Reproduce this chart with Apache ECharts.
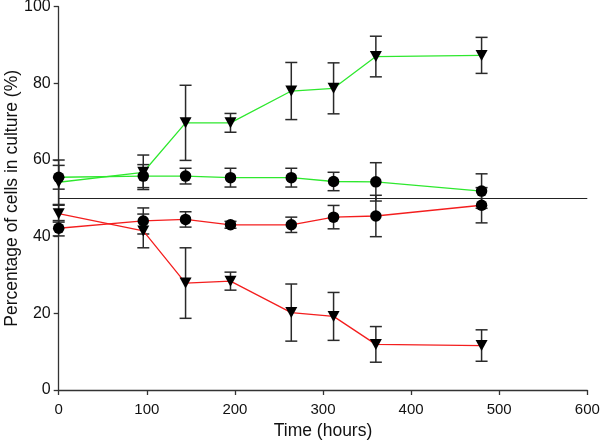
<!DOCTYPE html>
<html>
<head>
<meta charset="utf-8">
<script src="https://cdn.jsdelivr.net/npm/echarts@6/dist/echarts.min.js"></script>
<style>html,body{margin:0;padding:0;background:#fff}#c{width:600px;height:443px}</style>
</head>
<body>
<div id="c"></div>
<script>
const times = [0, 96, 144, 195, 264, 312, 360, 480];
const greenTri = [54.2, 56.8, 69.7, 69.7, 78.0, 78.7, 87.0, 87.3];
const greenTriErr = [5.8, 4.5, 9.8, 2.45, 7.45, 6.65, 5.3, 4.7];
const greenCirc = [55.5, 55.8, 55.8, 55.4, 55.4, 54.4, 54.3, 51.9];
const greenCircErr = [3.1, 3.0, 2.05, 2.45, 2.45, 2.4, 5.0, 4.5];
const redTri = [46.0, 41.5, 27.9, 28.4, 20.2, 19.2, 11.9, 11.6];
const redTriErr = [2.2, 4.4, 9.2, 2.35, 7.45, 6.25, 4.65, 4.1];
const redCirc = [42.2, 44.1, 44.5, 43.1, 43.1, 45.1, 45.4, 48.2];
const redCircErr = [2.0, 3.4, 2.0, 0.9, 2.0, 3.05, 5.4, 4.6];
const xTicks = [0, 100, 200, 300, 400, 500, 600];
const yTicks = [0, 20, 40, 60, 80, 100];
const refLevel = 50;

const GREEN = '#2ee82e', RED = '#f41e1e';

function pts(vals){ return times.map((t,i)=>[t, vals[i]]); }
function errs(vals, e){ return times.map((t,i)=>[t, vals[i]-e[i], vals[i]+e[i]]); }

function renderErr(params, api){
  const x = api.value(0), lo = api.value(1), hi = api.value(2);
  const top = api.coord([x, hi]), bot = api.coord([x, lo]);
  const w = 6;
  const st = {stroke:'#2a2a2a', lineWidth:1.5};
  return {type:'group', children:[
    {type:'line', shape:{x1:top[0], y1:top[1], x2:bot[0], y2:bot[1]}, style:st},
    {type:'line', shape:{x1:top[0]-w, y1:top[1], x2:top[0]+w, y2:top[1]}, style:st},
    {type:'line', shape:{x1:bot[0]-w, y1:bot[1], x2:bot[0]+w, y2:bot[1]}, style:st}
  ]};
}
function errSeries(vals, e){
  return {type:'custom', renderItem: renderErr, data: errs(vals, e),
    encode:{x:0, y:[1,2]}, z:1, silent:true, clip:false};
}
function lineSeries(vals, color, tri){
  return {type:'line', data: pts(vals), z:3, silent:true,
    symbol: tri ? 'triangle' : 'circle',
    symbolSize: tri ? [12, 11] : 11.5,
    symbolRotate: tri ? 180 : 0,
    itemStyle:{color:'#000', borderWidth:0},
    lineStyle:{color: color, width:1.3},
    animation:false};
}

const chart = echarts.init(document.getElementById('c'), null, {renderer:'canvas'});
chart.setOption({
  animation:false,
  backgroundColor:'#fff',
  grid:{left:58.7, right:12.7, top:6.7, bottom:53, containLabel:false, outerBoundsMode:'none'},
  xAxis:{type:'value', min:xTicks[0], max:xTicks[xTicks.length-1], interval:100,
    name:'Time (hours)', nameLocation:'middle', nameGap:32, nameMoveOverlap:false,
    nameTextStyle:{fontFamily:'Liberation Sans', fontSize:17.5, color:'#111'},
    axisLine:{lineStyle:{color:'#333', width:1.3}},
    axisTick:{show:true, inside:false, length:5, lineStyle:{color:'#333', width:1.3}},
    axisLabel:{fontFamily:'Liberation Sans', fontSize:15, color:'#111', margin:12},
    splitLine:{show:false}},
  yAxis:{type:'value', min:yTicks[0], max:yTicks[yTicks.length-1], interval:20,
    name:'Percentage of cells in culture (%)', nameLocation:'middle', nameGap:38, nameMoveOverlap:false,
    nameTextStyle:{fontFamily:'Liberation Sans', fontSize:17.5, color:'#111'},
    axisLine:{show:true, lineStyle:{color:'#333', width:1.3}},
    axisTick:{show:true, inside:false, length:5, lineStyle:{color:'#333', width:1.3}},
    axisLabel:{fontFamily:'Liberation Sans', fontSize:16, color:'#111', margin:8},
    splitLine:{show:false}},
  series:[
    errSeries(greenTri, greenTriErr),
    errSeries(greenCirc, greenCircErr),
    errSeries(redTri, redTriErr),
    errSeries(redCirc, redCircErr),
    Object.assign(lineSeries(greenTri, GREEN, true), {
      markLine:{silent:true, symbol:['none','none'], label:{show:false},
        lineStyle:{color:'#222', width:1.2, type:'solid'},
        data:[{yAxis: refLevel}]}
    }),
    lineSeries(greenCirc, GREEN, false),
    lineSeries(redTri, RED, true),
    lineSeries(redCirc, RED, false)
  ]
});
</script>
</body>
</html>
